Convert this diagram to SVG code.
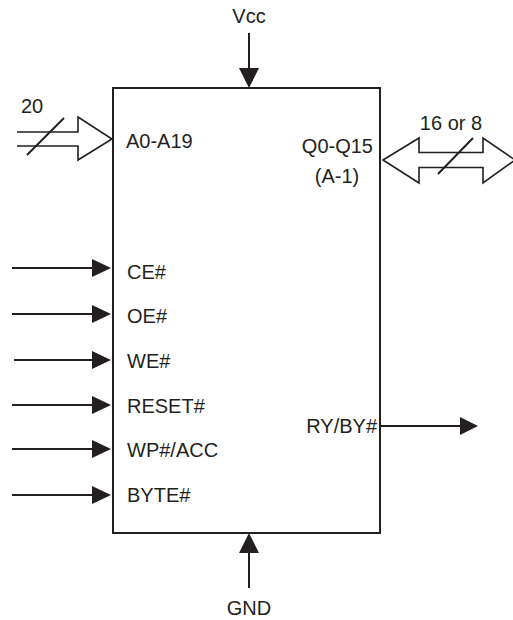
<svg xmlns="http://www.w3.org/2000/svg" width="513" height="620" viewBox="0 0 513 620">
<style>
.t{font-family:"Liberation Sans",Arial,sans-serif;font-size:20px;fill:#231f20}
.ln{stroke:#231f20;stroke-width:2;fill:none}
.bus{stroke:#231f20;stroke-width:1.6;fill:#fff;stroke-linejoin:miter}
.hd{fill:#231f20;stroke:none}
</style>
<rect width="513" height="620" fill="#fff"/>
<g id="chip">
<rect x="113" y="88" width="267" height="445" fill="none" stroke="#231f20" stroke-width="2"/>
<text class="t" x="126" y="148">A0-A19</text>
<text class="t" x="373" y="153" text-anchor="end">Q0-Q15</text>
<text class="t" x="337" y="183" text-anchor="middle">(A-1)</text>
<text class="t" x="127" y="279">CE#</text>
<text class="t" x="127" y="323">OE#</text>
<text class="t" x="127" y="368">WE#</text>
<text class="t" x="127" y="413">RESET#</text>
<text class="t" x="127" y="457">WP#/ACC</text>
<text class="t" x="127" y="502">BYTE#</text>
<text class="t" x="377" y="433" text-anchor="end">RY/BY#</text>
</g>
<g id="vcc"><text class="t" x="249" y="23" text-anchor="middle">Vcc</text></g>
<g id="gnd"><text class="t" x="249" y="615" text-anchor="middle">GND</text></g>
<g id="labels">
<text class="t" x="21" y="113">20</text>
<text class="t" x="451" y="130" text-anchor="middle">16 or 8</text>
</g>
<g id="connectors">
<path class="bus" d="M17,132 H78 V117 L112,139 L78,160 V146 H17"/>
<line class="ln" x1="27" y1="155" x2="64" y2="118" stroke-width="1.6"/>
<path class="bus" d="M383,160 L419,138 V152.5 H483 V138 L515,160 L483,183 V167.5 H419 V183 Z"/>
<line class="ln" x1="438" y1="174" x2="473" y2="138" stroke-width="1.6"/>
<line class="ln" x1="249" y1="33" x2="249" y2="70"/>
<polygon class="hd" points="239,68 259,68 249,88"/>
<line class="ln" x1="249" y1="551" x2="249" y2="588"/>
<polygon class="hd" points="239,553 259,553 249,533"/>
<g>
<line class="ln" x1="12" y1="268" x2="94" y2="268"/><polygon class="hd" points="92,259 92,277 111,268"/>
<line class="ln" x1="12" y1="314" x2="94" y2="314"/><polygon class="hd" points="92,305 92,323 111,314"/>
<line class="ln" x1="14" y1="360" x2="94" y2="360"/><polygon class="hd" points="92,351 92,369 111,360"/>
<line class="ln" x1="12" y1="405" x2="94" y2="405"/><polygon class="hd" points="92,396 92,414 111,405"/>
<line class="ln" x1="12" y1="449" x2="94" y2="449"/><polygon class="hd" points="92,440 92,458 111,449"/>
<line class="ln" x1="12" y1="495" x2="94" y2="495"/><polygon class="hd" points="92,486 92,504 111,495"/>
</g>
<line class="ln" x1="380" y1="426" x2="462" y2="426"/>
<polygon class="hd" points="460,417 460,435 478,426"/>
</g>
</svg>
